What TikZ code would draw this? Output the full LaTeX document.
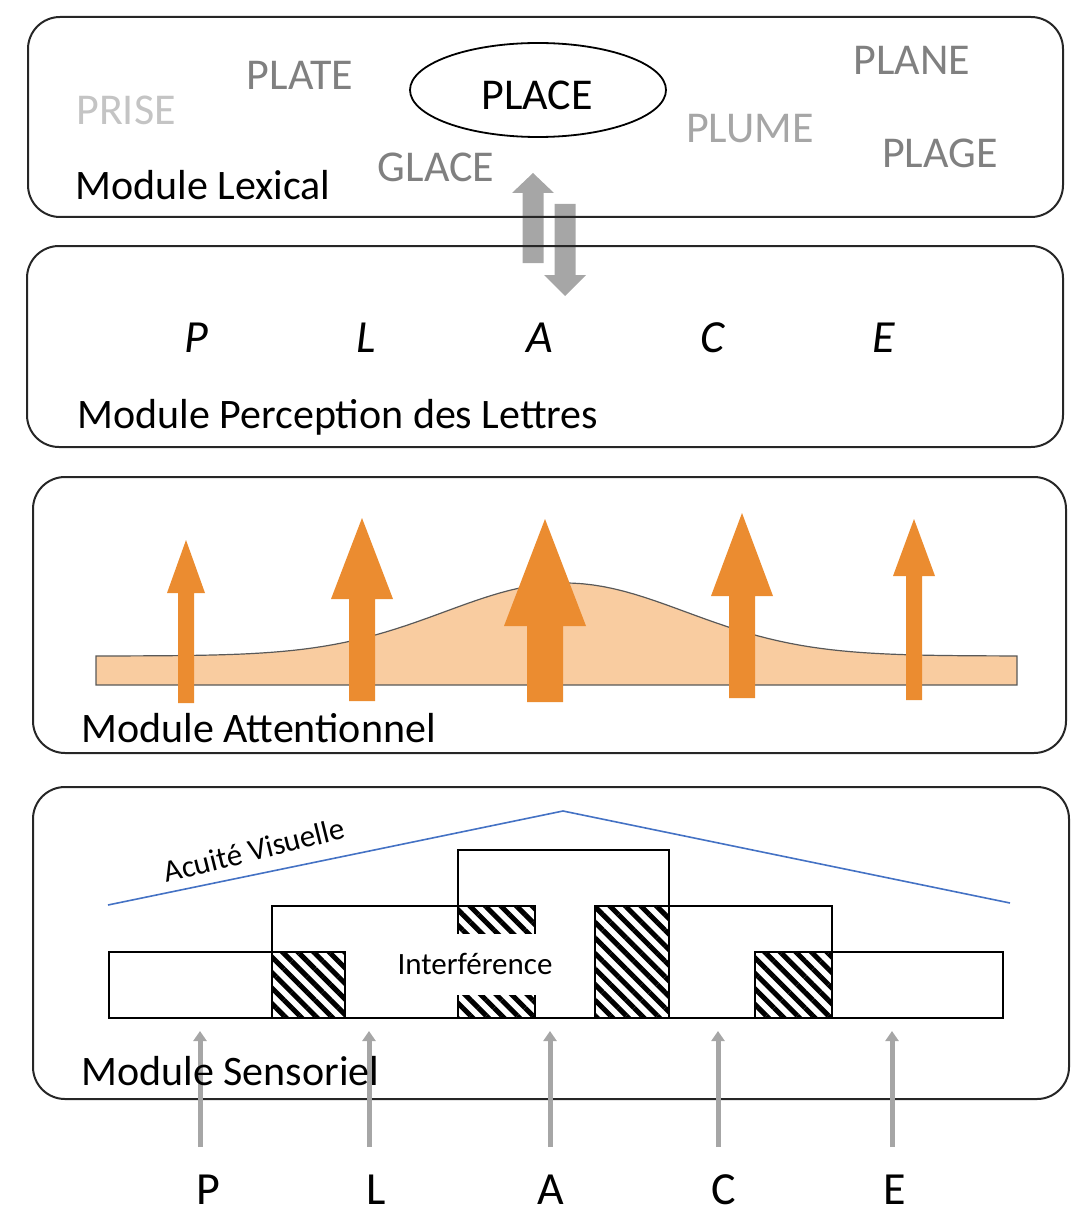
\documentclass[tikz,border=0pt]{standalone}
\usepackage{fontspec}
\setmainfont{Carlito}
\usepackage{tikz}
\usetikzlibrary{arrows.meta,shapes.geometric,patterns.meta}

\definecolor{attorange}{RGB}{235,140,48}
\definecolor{attband}{RGB}{249,204,160}
\definecolor{linkgray}{RGB}{166,166,166}
\definecolor{acuityblue}{RGB}{68,114,196}
\definecolor{wordgray}{RGB}{128,128,128}
\definecolor{wordlight}{RGB}{166,166,166}
\definecolor{wordfaint}{RGB}{196,196,196}

\tikzset{
	modbox/.style={draw=black!85,line width=1pt,rounded corners=16pt},
	modlabel/.style={anchor=base west,inner sep=0pt,font=\fontsize{21}{25}\selectfont},
	word/.style={anchor=base,inner sep=0pt,font=\fontsize{22}{26}\selectfont},
	letter/.style={anchor=base,inner sep=0pt,font=\fontsize{23}{28}\selectfont},
	iletter/.style={letter,font=\fontsize{23}{28}\selectfont\itshape},
	small/.style={font=\fontsize{15.5}{18}\selectfont},
	field/.style={draw=black,line width=1pt},
	overlap/.style={pattern={Lines[angle=-45,distance=5.5pt,line width=2.5pt]}},
	senslink/.style={draw=linkgray,line width=2.5pt,arrows={-Triangle[width=6.5pt,length=5pt]}},
}

% colour, x, tip, head base, head half width, shaft half width, tail
\newcommand{\blockarrow}[7]{\fill[#1] ({#2-#6},#7) -- ({#2-#6},#4) -- ({#2-#5},#4) -- (#2,#3) -- ({#2+#5},#4) -- ({#2+#6},#4) -- ({#2+#6},#7) -- cycle;}
\newcommand{\stimulus}[3]{\node[letter](in#1) at (#3,1204) {#1};\coordinate(foot#1) at (#2,1147);\coordinate(tip#1) at (#2,1031);\draw[senslink] (foot#1) to (tip#1);}

\begin{document}
\begin{tikzpicture}[x=0.5pt,y=-0.5pt]
	\useasboundingbox (0,0) rectangle (1072,1214);

	\blockarrow{linkgray}{533}{173}{193}{21}{10.5}{263}
	\blockarrow{linkgray}{565}{296}{275}{21}{10.5}{204}

	\draw[modbox] (28,17) rectangle (1063,217);
	\draw[modbox] (27,246) rectangle (1063,447);
	\draw[modbox] (33,477) rectangle (1066,753);
	\draw[modbox] (33,787) rectangle (1069,1099);

	% lexical
	\node[word,wordfaint] (prise) at (126,125) {PRISE};
	\node[word,wordgray] (plate) at (300,90) {PLATE};
	\node[draw,ellipse,line width=0.9pt,minimum width=128pt,minimum height=47pt] (placering) at (538,90) {};
	\node[word] (place) at (537,110) {PLACE};
	\node[word,wordgray] (glace) at (436,182) {GLACE};
	\node[word,wordlight] (plume) at (750,143) {PLUME};
	\node[word,wordgray] (plane) at (912,75) {PLANE};
	\node[word,wordgray] (plage) at (940,168) {PLAGE};
	\node[modlabel] (lablex) at (75,199) {Module Lexical};

	% letters
	\node[iletter] (perP) at (196,352) {P};
	\node[iletter] (perL) at (366,352) {L};
	\node[iletter] (perA) at (540,352) {A};
	\node[iletter] (perC) at (713,352) {C};
	\node[iletter] (perE) at (884,352) {E};
	\node[modlabel] (labper) at (77,428) {Module Perception des Lettres};

	% attention
	\draw[draw=black!65,fill=attband,line width=0.6pt] (96,685) -- (96,656) -- plot[domain=96:1017,samples=90] (\x,{656-73*exp(-((\x-565)/170)^2)}) -- (1017,685) -- cycle;
	\blockarrow{attorange}{186}{540}{593}{19}{8}{703}
	\blockarrow{attorange}{362}{518}{599}{31}{13}{701}
	\blockarrow{attorange}{545}{519}{626}{41}{18}{702}
	\blockarrow{attorange}{742}{513}{596}{31}{13}{698}
	\blockarrow{attorange}{914}{519}{576}{21}{8}{700}
	\node[modlabel] (labatt) at (81,742) {Module Attentionnel};

	% sensory
	\draw[acuityblue,line width=0.8pt] (108,905) -- (563,811) -- (1010,903);
	\node[small,rotate=14] (acuity) at (254,850) {Acuité Visuelle};
	\fill[overlap] (272,952) rectangle (345,1018);
	\fill[overlap] (458,906) rectangle (535,1018);
	\fill[overlap] (595,906) rectangle (669,1018);
	\fill[overlap] (755,952) rectangle (832,1018);
	\draw[field] (109,952) rectangle (345,1018);
	\draw[field] (272,906) rectangle (535,1018);
	\draw[field] (458,850) rectangle (669,1018);
	\draw[field] (595,906) rectangle (832,1018);
	\draw[field] (755,952) rectangle (1003,1018);
	\node[small,fill=white,minimum height=30.5pt] (interf) at (475,964) {Interférence};

	\stimulus{P}{200}{208}
	\stimulus{L}{369}{376}
	\stimulus{A}{550}{551}
	\stimulus{C}{718}{724}
	\stimulus{E}{892}{895}
	\node[modlabel] (labsens) at (81,1085) {Module Sensoriel};
\end{tikzpicture}
\end{document}
